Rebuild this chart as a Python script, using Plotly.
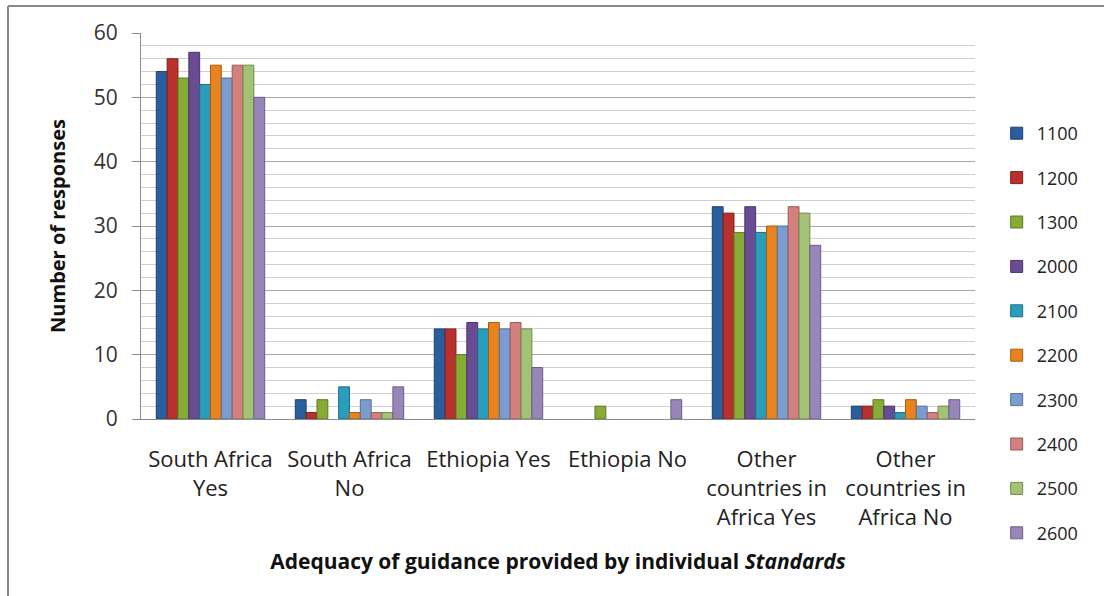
import plotly.graph_objects as go

# Response categories (x axis)
categories = [
    "South Africa<br>Yes",
    "South Africa<br>No",
    "Ethiopia Yes",
    "Ethiopia No",
    "Other<br>countries in<br>Africa Yes",
    "Other<br>countries in<br>Africa No",
]

# Standards (one series each)
standards = ["1100", "1200", "1300", "2000", "2100", "2200", "2300", "2400", "2500", "2600"]

# Number of responses per standard, in category order
s1100 = [54, 3, 14, 0, 33, 2]
s1200 = [56, 1, 14, 0, 32, 2]
s1300 = [53, 3, 10, 2, 29, 3]
s2000 = [57, 0, 15, 0, 33, 2]
s2100 = [52, 5, 14, 0, 29, 1]
s2200 = [55, 1, 15, 0, 30, 3]
s2300 = [53, 3, 14, 0, 30, 2]
s2400 = [55, 1, 15, 0, 33, 1]
s2500 = [55, 1, 14, 0, 32, 2]
s2600 = [50, 5, 8, 3, 27, 3]

series_values = [s1100, s1200, s1300, s2000, s2100, s2200, s2300, s2400, s2500, s2600]

colors = [
    "#2B5E9C", "#B8312D", "#86AC35", "#6A4C95", "#2A9DBB",
    "#E9841D", "#7B9CCF", "#D3817E", "#A3C274", "#9886B8",
]
edge_colors = [
    "#1E4170", "#7E211E", "#5E7A24", "#4A3468", "#1D6E84",
    "#A85C12", "#56709A", "#9A5B59", "#738A51", "#6B5E84",
]

FONT = "Open Sans"

# plot-area geometry in pixels
W, H = 1104, 596
ML, MR, MT, MB = 141, 129, 33, 177
PW, PH = W - ML - MR, H - MT - MB

fig = go.Figure()
for name, vals, c, ec in zip(standards, series_values, colors, edge_colors):
    fig.add_trace(go.Bar(
        name=name,
        x=categories,
        y=vals,
        legendgroup=name,
        marker=dict(
            color=c,
            # empty bars get no outline so nothing is drawn on the baseline
            line=dict(color=ec, width=[1 if v > 0 else 0 for v in vals]),
        ),
    ))

fig.update_layout(
    width=W,
    height=H,
    barmode="group",
    bargap=0.22,
    bargroupgap=0,
    plot_bgcolor="white",
    paper_bgcolor="white",
    margin=dict(l=ML, r=MR, t=MT, b=MB, autoexpand=False),
    font=dict(family=FONT, size=18, color="#222222"),
    showlegend=True,
    legend=dict(
        x=1.026, xanchor="left",
        y=(H - MB - 115) / PH, yanchor="top",
        font=dict(family=FONT, size=18, color="#222222"),
        tracegroupgap=18,
        itemwidth=30,
        maxheight=520,
        bgcolor="rgba(0,0,0,0)",
    ),
    xaxis=dict(
        showgrid=False,
        showline=True,
        linecolor="#8C8C8C",
        linewidth=1,
        ticks="",
        ticklabelstandoff=21,
        tickfont=dict(family=FONT, size=22, color="#222222"),
        title=dict(
            text="<b>Adequacy of guidance provided by individual <i>Standards</i></b>",
            font=dict(family=FONT, size=21, color="#111111"),
            standoff=24,
        ),
    ),
    yaxis=dict(
        range=[0, 60],
        dtick=10,
        showgrid=True,
        gridcolor="#A8A8A8",
        gridwidth=1,
        minor=dict(dtick=2, showgrid=True, gridcolor="#D0D0D0", gridwidth=1),
        showline=True,
        linecolor="#8C8C8C",
        linewidth=1,
        ticks="outside",
        ticklen=8,
        tickcolor="#8C8C8C",
        zeroline=False,
        ticklabelstandoff=10,
        tickfont=dict(family=FONT, size=21, color="#333333"),
        title=dict(
            text="<b>Number of responses</b>",
            font=dict(family=FONT, size=20, color="#111111"),
            standoff=22,
        ),
    ),
)

# Chart frame (top and left edges)
fx = (8 - ML) / PW
fy = (H - MB - 6) / PH
fig.add_shape(type="line", xref="paper", yref="paper",
              x0=fx, x1=(W - ML) / PW, y0=fy, y1=fy,
              line=dict(color="#8A8A8A", width=2))
fig.add_shape(type="line", xref="paper", yref="paper",
              x0=fx, x1=fx, y0=fy, y1=-MB / PH,
              line=dict(color="#8A8A8A", width=2))

fig.write_html("out.html")
